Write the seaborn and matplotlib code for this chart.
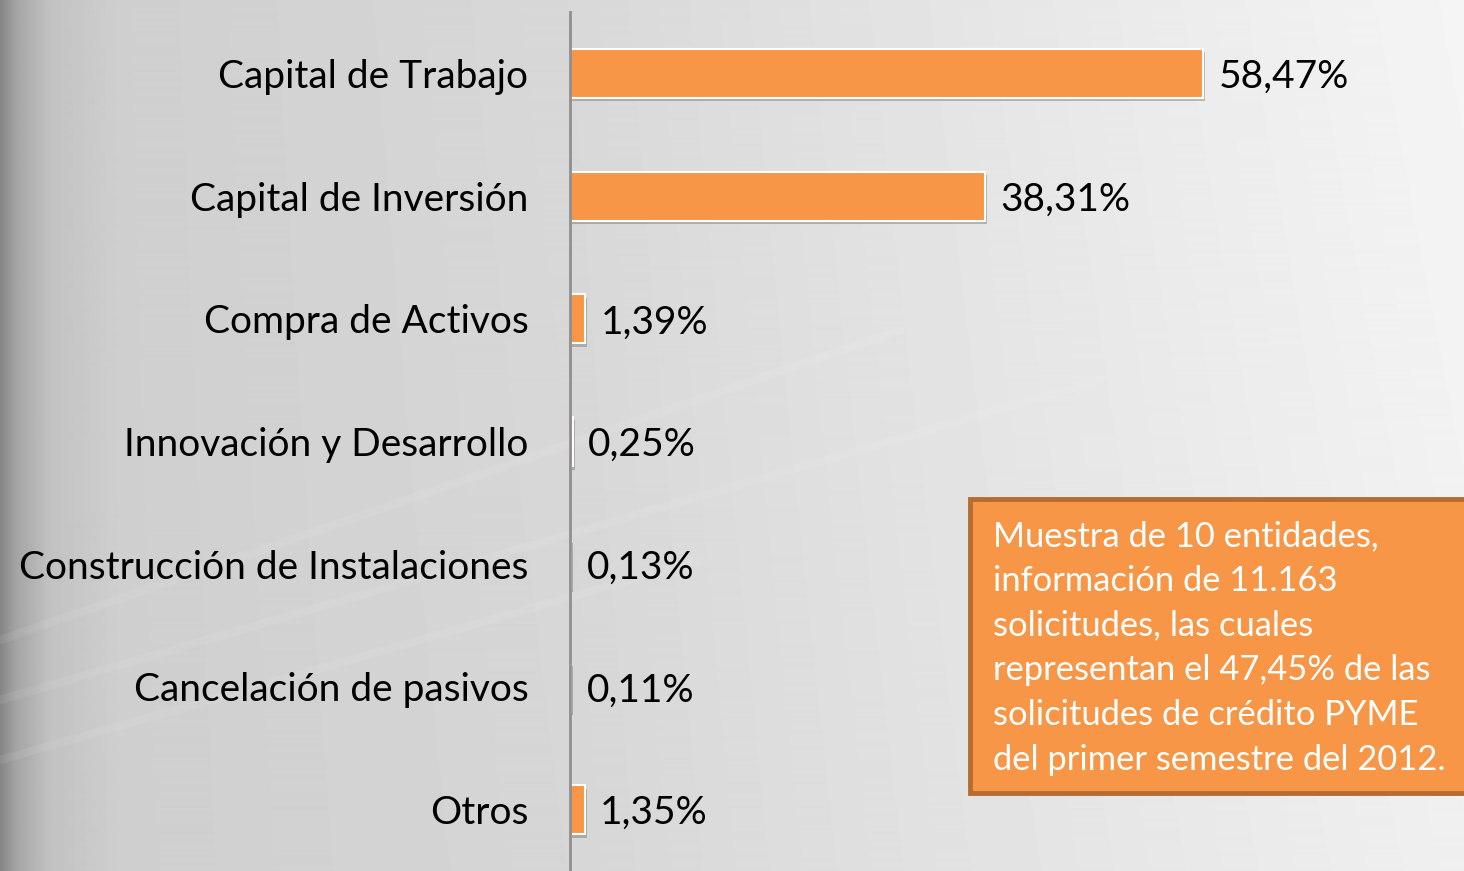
import numpy as np
import pandas as pd
import seaborn as sns
import matplotlib.pyplot as plt
import matplotlib.patheffects as pe
from matplotlib.patches import Rectangle

categorias = ["Capital de Trabajo", "Capital de Inversión", "Compra de Activos",
              "Innovación y Desarrollo", "Construcción de Instalaciones",
              "Cancelación de pasivos", "Otros"]
porcentajes = [58.47, 38.31, 1.39, 0.25, 0.13, 0.11, 1.35]
etiquetas = ["58,47%", "38,31%", "1,39%", "0,25%", "0,13%", "0,11%", "1,35%"]
nota = ("Muestra de 10 entidades,\ninformación de 11.163\nsolicitudes, las cuales\n"
        "representan el 47,45% de las\nsolicitudes de crédito PYME\n"
        "del primer semestre del 2012.")

df = pd.DataFrame({"uso": categorias, "pct": porcentajes})

sns.set_style("white")
plt.rcParams["font.family"] = ["Lato", "DejaVu Sans"]

naranja = "#F79646"
fig = plt.figure(figsize=(14.64, 8.71), dpi=100)

# gray gradient background
bg = fig.add_axes([0, 0, 1, 1], zorder=-10)
xs = np.linspace(0, 1464, 1464)
gx = np.interp(xs, [0, 15, 50, 120, 570, 1000, 1464],
               [0.52, 0.64, 0.76, 0.81, 0.84, 0.89, 0.94])
ys = np.linspace(0, 1, 871)[:, None]
img = gx[None, :] + 0.02 * (1 - ys) * (xs[None, :] / 1464)
bg.imshow(np.clip(img, 0, 1), cmap="gray", vmin=0, vmax=1, aspect="auto",
          extent=[0, 1464, 871, 0])
for x0, y0, x1, y1 in [(0, 640, 900, 330), (0, 700, 1100, 380), (0, 760, 700, 560)]:
    bg.plot([x0, x1], [y0, y1], color="white", alpha=0.08, lw=6)
bg.set_xlim(0, 1464)
bg.set_ylim(871, 0)
bg.axis("off")

ax = fig.add_axes([570 / 1464, 0, 1 - 570 / 1464, 1 - 12 / 871])
ax.patch.set_alpha(0)
sns.barplot(data=df, y="uso", x="pct", orient="h", color=naranja, saturation=1,
            width=0.4, edgecolor="white", linewidth=1.5, ax=ax)
for bar in ax.patches:
    bar.set_path_effects([pe.SimplePatchShadow(offset=(1.5, -2.5), shadow_rgbFace="#555555", alpha=0.35),
                          pe.Normal()])

ax.set_xlim(0, 82.55)
ax.set_ylim(6.5, -0.5)
ax.set_xlabel("")
ax.set_ylabel("")
ax.set_xticks([])
ax.tick_params(axis="y", length=0, pad=30, labelsize=28, labelcolor="black")
for s in ["top", "right", "bottom"]:
    ax.spines[s].set_visible(False)
ax.spines["left"].set_color("#8f8f8f")
ax.spines["left"].set_linewidth(2)

for bar, lbl in zip(ax.patches, etiquetas):
    ax.annotate(lbl, (bar.get_width(), bar.get_y() + bar.get_height() / 2),
                xytext=(11, 0), textcoords="offset points", ha="left",
                va="center_baseline", fontsize=28, color="black")

# note box
caja = Rectangle((970 / 1464, (871 - 793) / 871), 0.5, (793 - 499) / 871,
                 transform=fig.transFigure, facecolor=naranja, edgecolor="#B76B30",
                 linewidth=3.5, clip_on=False)
fig.add_artist(caja)
fig.text(993 / 1464, (871 - 520) / 871, nota, color="white", fontsize=24.8,
         va="top", ha="left", linespacing=1.49)

fig.savefig("out.png", dpi=100)
